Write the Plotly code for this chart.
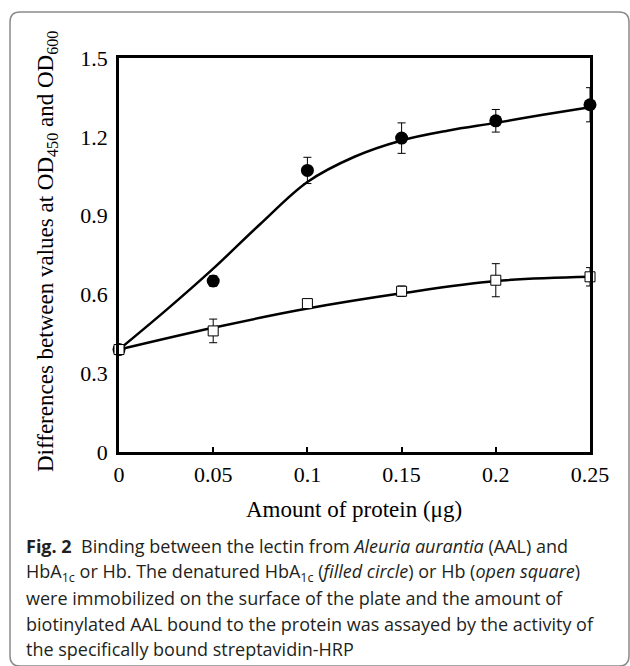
import plotly.graph_objects as go

# ---- data ----
x_amount = [0, 0.05, 0.1, 0.15, 0.2, 0.25]
hba1c_vals = [0.39, 0.651, 1.072, 1.195, 1.261, 1.322]
hba1c_err = [0.0, 0.02, 0.05, 0.058, 0.043, 0.065]
hb_vals = [0.39, 0.461, 0.565, 0.612, 0.654, 0.667]
hb_err = [0.01, 0.045, 0.005, 0.02, 0.063, 0.035]

# fitted curves (knots)
fit_circle_x = [0, 0.025, 0.05, 0.075, 0.1, 0.125, 0.15, 0.175, 0.2, 0.225, 0.25]
fit_circle_y = [0.39, 0.54, 0.698, 0.868, 1.028, 1.124, 1.186, 1.224, 1.253, 1.284, 1.313]
fit_square_x = [0, 0.05, 0.1, 0.15, 0.2, 0.25]
fit_square_y = [0.39, 0.473, 0.546, 0.604, 0.651, 0.667]

x_ticks = [0, 0.05, 0.1, 0.15, 0.2, 0.25]
x_ticklabels = ["0", "0.05", "0.1", "0.15", "0.2", "0.25"]
y_ticks = [0, 0.3, 0.6, 0.9, 1.2, 1.5]
y_ticklabels = ["0", "0.3", "0.6", "0.9", "1.2", "1.5"]

x_title = "Amount of protein (μg)"
y_title = "Differences between values at OD<sub>450</sub> and OD<sub>600</sub>"
caption_lines = [
    "<b>Fig. 2</b>  Binding between the lectin from <i>Aleuria aurantia</i> (AAL) and",
    "HbA<sub>1c</sub> or Hb. The denatured HbA<sub>1c</sub> (<i>filled circle</i>) or Hb (<i>open square</i>)",
    "were immobilized on the surface of the plate and the amount of",
    "biotinylated AAL bound to the protein was assayed by the activity of",
    "the specifically bound streptavidin-HRP",
]

# ---- layout geometry (pixels) ----
W, H = 630, 666
L, R, T, B = 119, 590, 58, 452
pw, ph = R - L, B - T


def px(x):
    return (x - L) / pw


def py(y):
    return (B - y) / ph


fig = go.Figure()

fig.add_trace(go.Scatter(x=fit_circle_x, y=fit_circle_y, mode="lines",
                         line=dict(color="black", width=2.5, shape="spline", smoothing=1.0),
                         hoverinfo="skip", showlegend=False, cliponaxis=False))
fig.add_trace(go.Scatter(x=fit_square_x, y=fit_square_y, mode="lines",
                         line=dict(color="black", width=2.5, shape="spline", smoothing=1.0),
                         hoverinfo="skip", showlegend=False, cliponaxis=False))

fig.add_trace(go.Scatter(x=x_amount, y=hba1c_vals, mode="markers",
                         marker=dict(symbol="circle", size=13, color="black"),
                         error_y=dict(type="data", array=hba1c_err, color="black",
                                      thickness=1, width=4),
                         showlegend=False, cliponaxis=False, name="HbA1c"))
fig.add_trace(go.Scatter(x=x_amount, y=hb_vals, mode="markers",
                         marker=dict(symbol="square", size=10, color="white",
                                     line=dict(color="black", width=1)),
                         error_y=dict(type="data", array=hb_err, color="black",
                                      thickness=1, width=4),
                         showlegend=False, cliponaxis=False, name="Hb"))

serif = "Liberation Serif, Times New Roman, serif"

fig.update_layout(
    width=W, height=H,
    margin=dict(l=L, r=W - R, t=T, b=H - B, pad=0),
    paper_bgcolor="white", plot_bgcolor="white",
    font=dict(family=serif, color="black", size=22),
    xaxis=dict(range=[0, 0.25], tickvals=x_ticks, ticktext=x_ticklabels,
               ticks="inside", ticklen=5, tickwidth=1.5, tickcolor="black",
               showline=True, linecolor="black", linewidth=2.5, mirror=True,
               showgrid=False, zeroline=False, ticklabelstandoff=1,
               tickfont=dict(family=serif, size=22)),
    yaxis=dict(range=[0, 1.5], tickvals=y_ticks, ticktext=y_ticklabels,
               ticks="", showline=True, linecolor="black", linewidth=2.5, mirror=True,
               showgrid=False, zeroline=False, ticklabelstandoff=4,
               tickfont=dict(family=serif, size=22)),
)

# axis titles
fig.add_annotation(x=px(354), y=py(509), xref="paper", yref="paper",
                   text=x_title, showarrow=False, xanchor="center", yanchor="middle",
                   font=dict(family=serif, size=23))
fig.add_annotation(x=px(47), y=py(252), xref="paper", yref="paper",
                   text=y_title, showarrow=False, textangle=-90,
                   xanchor="center", yanchor="middle",
                   font=dict(family=serif, size=23))

# caption
cap_y = [546, 572, 598, 624, 649]
for line, yy in zip(caption_lines, cap_y):
    fig.add_annotation(x=px(24), y=py(yy), xref="paper", yref="paper",
                       text=line, showarrow=False, xanchor="left", yanchor="middle",
                       align="left",
                       font=dict(family="Open Sans, Noto Sans, sans-serif", size=18,
                                 color="#231f20"))

# rounded frame
fl, ft, fr, fb, rr = 10, 12, 629, 666, 10
path = (f"M {px(fl + rr)},{py(ft)} L {px(fr - rr)},{py(ft)} "
        f"Q {px(fr)},{py(ft)} {px(fr)},{py(ft + rr)} "
        f"L {px(fr)},{py(fb - rr)} Q {px(fr)},{py(fb)} {px(fr - rr)},{py(fb)} "
        f"L {px(fl + rr)},{py(fb)} Q {px(fl)},{py(fb)} {px(fl)},{py(fb - rr)} "
        f"L {px(fl)},{py(ft + rr)} Q {px(fl)},{py(ft)} {px(fl + rr)},{py(ft)} Z")
fig.add_shape(type="path", path=path, xref="paper", yref="paper",
              line=dict(color="#8a8a8a", width=1.5), layer="below")

fig.write_html("out.html")
